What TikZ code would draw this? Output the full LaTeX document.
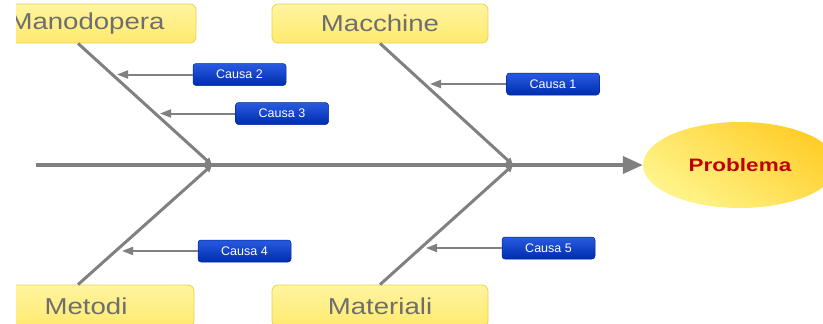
\documentclass[tikz,border=0pt]{standalone}
\usepackage{fontspec}
\setmainfont{Liberation Sans}
\newfontfamily\catfont[FakeStretch=1.2]{Liberation Sans}
\newfontfamily\probfont[FakeStretch=1.25]{Liberation Sans}
\usetikzlibrary{arrows.meta,shapes.geometric}
\definecolor{ybord}{RGB}{236,210,70}
\definecolor{ytop}{RGB}{255,244,160}
\definecolor{ybot}{RGB}{255,234,110}
\definecolor{gtext}{RGB}{110,110,110}
\definecolor{btop}{RGB}{40,90,225}
\definecolor{bbot}{RGB}{0,45,175}
\definecolor{bbord}{RGB}{0,40,150}
\definecolor{lgray}{RGB}{128,128,128}
\definecolor{ptext}{RGB}{192,0,0}
\definecolor{elA}{RGB}{255,245,140}
\definecolor{elB}{RGB}{255,205,40}
\tikzset{
  catbox/.style={draw=ybord, line width=0.8pt, rounded corners=6pt,
    top color=ytop, bottom color=ybot, text=gtext, inner sep=0pt,
    font=\catfont\fontsize{23}{26}\selectfont},
  causabox/.style={draw=bbord, line width=0.5pt, rounded corners=3pt,
    top color=btop, bottom color=bbot, text=white, inner sep=0pt,
    minimum width=93pt, minimum height=22pt,
    font=\fontsize{12.5}{14}\selectfont},
  probnode/.style={ellipse, inner sep=0pt, minimum width=194pt, minimum height=86pt,
    bottom color=elA, top color=elB, shading angle=-35, text=ptext,
    font=\probfont\bfseries\fontsize{18}{20}\selectfont},
  spine/.style={draw=lgray, line width=4pt, -{Triangle[length=20pt,width=17pt]}},
  bone/.style={draw=lgray, line width=3pt, -{Triangle[length=7pt,width=7pt]}},
  carrow/.style={draw=lgray, line width=2pt, -{Triangle[length=11pt,width=8pt]}}
}
\begin{document}
\begin{tikzpicture}[x=1pt,y=-1pt]
\useasboundingbox (0,0) rectangle (823,324);
\clip (16,0) rectangle (823,324);
% categories
\node[catbox, minimum width=218pt, minimum height=39pt] (mano) at (87,23.5) {Manodopera};
\node[catbox, minimum width=216pt, minimum height=39pt] (macc) at (380,23.5) {Macchine};
\node[catbox, minimum width=216pt, minimum height=42pt] (meto) at (86,306) {Metodi};
\node[catbox, minimum width=216pt, minimum height=42pt] (mate) at (380,306) {Materiali};
% problem
\node[probnode] (prob) at (740,165) {Problema};
% spine
\coordinate (tail) at (36,165);
\coordinate (j1) at (212,165);
\coordinate (j2) at (513,165);
\draw[spine] (tail) -- (prob);
% bones
\draw[bone] ([xshift=-9pt]mano.south) -- (j1);
\draw[bone] (macc.south) -- (j2);
\draw[bone] ([xshift=-8pt]meto.north) -- (j1);
\draw[bone] (mate.north) -- (j2);
% causes
\node[causabox] (c1) at (553,84) {Causa 1};
\node[causabox] (c2) at (239.5,74.5) {Causa 2};
\node[causabox] (c3) at (282,113.5) {Causa 3};
\node[causabox] (c4) at (244.5,251) {Causa 4};
\node[causabox] (c5) at (548.5,248) {Causa 5};
\coordinate (t1) at (430,84);
\coordinate (t2) at (117,74.5);
\coordinate (t3) at (160,113.5);
\coordinate (t4) at (122,251);
\coordinate (t5) at (426,248);
\draw[carrow] (c1) -- (t1);
\draw[carrow] (c2) -- (t2);
\draw[carrow] (c3) -- (t3);
\draw[carrow] (c4) -- (t4);
\draw[carrow] (c5) -- (t5);
\end{tikzpicture}
\end{document}
